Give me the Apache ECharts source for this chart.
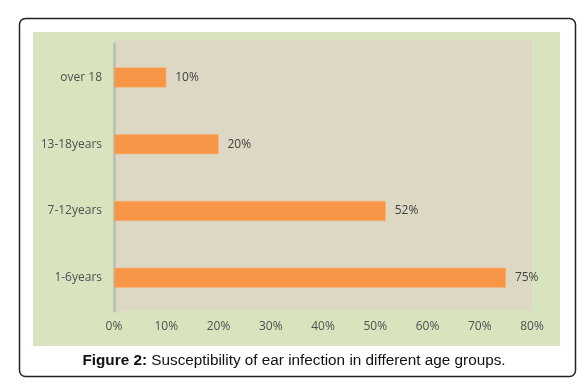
<!DOCTYPE html>
<html><head><meta charset="utf-8">
<script src="https://cdn.jsdelivr.net/npm/echarts@6/dist/echarts.min.js"></script>
<style>html,body{margin:0;padding:0;background:#fff}#c{width:588px;height:388px}</style>
</head><body><div id="c"></div>
<script>
var categories = ["1-6years", "7-12years", "13-18years", "over 18"];
var values = [75, 52, 20, 10];
var xTicks = [0, 10, 20, 30, 40, 50, 60, 70, 80];

var chart = echarts.init(document.getElementById('c'), null, {renderer: 'canvas'});
chart.setOption({
  backgroundColor: '#ffffff',
  animation: false,
  graphic: [
    {type: 'rect', shape: {x: 19.5, y: 18.5, width: 556, height: 358, r: 6}, style: {fill: '#ffffff', stroke: '#222', lineWidth: 1.5}, z: -10},
    {type: 'rect', shape: {x: 33, y: 32, width: 527, height: 314}, style: {fill: '#D7E4BD'}, z: -9},
    {type: 'rect', shape: {x: 114, y: 40, width: 418, height: 271}, style: {fill: '#DDD8C4'}, z: -8},
    {type: 'text', left: 'center', top: 353, style: {
      rich: {b: {fontWeight: 'bold', fontSize: 15.3, fontFamily: 'Liberation Sans, Arial', fill: '#111'},
             n: {fontSize: 15.3, fontFamily: 'Liberation Sans, Arial', fill: '#111'}},
      text: '{b|Figure 2:}{n| Susceptibility of ear infection in different age groups.}'
    }}
  ],
  grid: {left: 114, top: 44, width: 418, height: 267, containLabel: false},
  xAxis: {
    type: 'value', min: 0, max: 80, interval: 10,
    axisLine: {show: false}, axisTick: {show: false}, splitLine: {show: false},
    axisLabel: {formatter: function (v) { return xTicks.indexOf(v) >= 0 ? v + '%' : ''; }, color: '#505050', fontSize: 12, fontFamily: 'Open Sans', margin: 10}
  },
  yAxis: {
    type: 'category', data: categories,
    axisLine: {show: true, lineStyle: {color: '#BFBFBF', width: 3}},
    axisTick: {show: false},
    axisLabel: {color: '#505050', fontSize: 12, fontFamily: 'Open Sans', margin: 12}
  },
  series: [{
    type: 'bar', data: values, barWidth: 20,
    itemStyle: {color: '#F79646', borderColor: '#F9B07A', borderWidth: 0.5},
    label: {show: true, position: 'right', distance: 9, formatter: '{c}%', color: '#404040', fontSize: 12, fontFamily: 'Open Sans'}
  }]
});
</script></body></html>
